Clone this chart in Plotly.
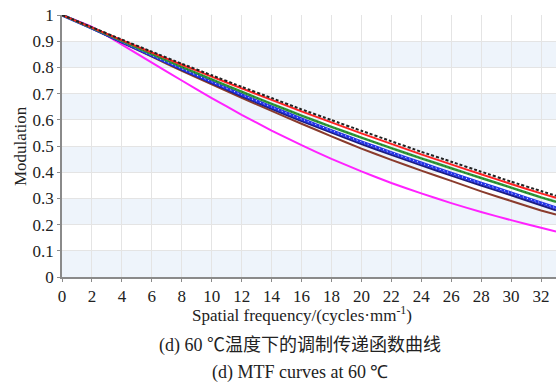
import plotly.graph_objects as go

freq = [0, 2, 4, 6, 8, 10, 12, 14, 16, 18, 20, 22, 24, 26, 28, 30, 32, 33]

diffraction = [1.0, 0.953, 0.906, 0.860, 0.814, 0.770, 0.726, 0.683, 0.640, 0.599, 0.558, 0.518, 0.478, 0.440, 0.402, 0.364, 0.328, 0.310]
red_curve = [1.0, 0.952, 0.904, 0.857, 0.810, 0.765, 0.720, 0.676, 0.632, 0.590, 0.548, 0.508, 0.468, 0.430, 0.392, 0.355, 0.319, 0.302]
green_curve = [1.0, 0.951, 0.901, 0.851, 0.802, 0.754, 0.707, 0.661, 0.616, 0.573, 0.532, 0.492, 0.453, 0.415, 0.378, 0.341, 0.304, 0.287]
blue_curve = [1.0, 0.950, 0.898, 0.846, 0.795, 0.745, 0.696, 0.649, 0.603, 0.559, 0.516, 0.475, 0.435, 0.396, 0.358, 0.321, 0.283, 0.264]
navy_curve = [1.0, 0.949, 0.896, 0.843, 0.791, 0.740, 0.690, 0.642, 0.595, 0.551, 0.507, 0.466, 0.426, 0.387, 0.349, 0.312, 0.274, 0.255]
brown_curve = [1.0, 0.948, 0.895, 0.841, 0.787, 0.735, 0.684, 0.634, 0.585, 0.537, 0.490, 0.447, 0.406, 0.367, 0.327, 0.290, 0.254, 0.238]
magenta_curve = [1.0, 0.955, 0.887, 0.818, 0.750, 0.683, 0.619, 0.559, 0.503, 0.451, 0.403, 0.359, 0.319, 0.282, 0.248, 0.217, 0.188, 0.174]

x_ticks = list(range(0, 33, 2))
y_ticks = [0, 0.1, 0.2, 0.3, 0.4, 0.5, 0.6, 0.7, 0.8, 0.9, 1]
y_tick_text = ["0", "0.1", "0.2", "0.3", "0.4", "0.5", "0.6", "0.7", "0.8", "0.9", "1"]

SERIF = "Liberation Serif"

fig = go.Figure()

def line(y, color, width, dash="solid"):
    fig.add_trace(go.Scatter(x=freq, y=y, mode="lines", showlegend=False,
                             line=dict(color=color, width=width, dash=dash, shape="spline", smoothing=0.3),
                             hoverinfo="skip"))

line(magenta_curve, "#ff22ff", 2)
line(brown_curve, "#8a3b2c", 2)
line(navy_curve, "#1c1c80", 2)
line(blue_curve, "#2233e8", 3)
line(blue_curve, "#ffffff", 1, "1px,3px")
line(green_curve, "#2e9a3a", 2.5)
line(green_curve, "#1f5f25", 1, "1px,3px")
line(red_curve, "#ff2222", 2)
line(diffraction, "#222222", 2, "3px,2px")

# alternating background bands
shapes = []
for i in range(0, 10, 2):
    shapes.append(dict(type="rect", xref="paper", yref="y", x0=0, x1=1,
                       y0=y_ticks[i], y1=y_ticks[i + 1], fillcolor="#eef4fb",
                       line=dict(width=0), layer="below"))

fig.update_layout(
    width=556, height=392,
    margin=dict(l=62, r=0, t=15, b=115),
    plot_bgcolor="white", paper_bgcolor="white",
    shapes=shapes,
    font=dict(family=SERIF, size=17, color="#222222"),
    xaxis=dict(range=[0, 33], tickmode="array", tickvals=x_ticks,
               showgrid=True, gridcolor="#e4e4e4", gridwidth=1,
               showline=True, linecolor="#8a8a8a", linewidth=1.5,
               ticks="outside", ticklen=3, tickcolor="#8a8a8a",
               zeroline=False, tickfont=dict(family=SERIF, size=17, color="#222")),
    yaxis=dict(range=[0, 1], tickmode="array", tickvals=y_ticks, ticktext=y_tick_text,
               showgrid=True, gridcolor="#e4e4e4", gridwidth=1,
               showline=True, linecolor="#8a8a8a", linewidth=1.5,
               ticks="outside", ticklen=3, tickcolor="#8a8a8a",
               zeroline=False, tickfont=dict(family=SERIF, size=17, color="#222")),
    annotations=[
        dict(text="Spatial frequency/(cycles·mm<sup>-1</sup>)", xref="paper", yref="paper",
             x=0.485, y=0, yshift=-37, xanchor="center", yanchor="middle", showarrow=False,
             font=dict(family=SERIF, size=17, color="#222")),
        dict(text="Modulation", xref="paper", yref="paper", x=0, xshift=-42, y=0.5,
             textangle=-90, xanchor="center", yanchor="middle", showarrow=False,
             font=dict(family=SERIF, size=17, color="#222")),
        dict(text="(d) 60 ℃温度下的调制传递函数曲线", xref="paper", yref="paper",
             x=0.482, y=0, yshift=-68, xanchor="center", yanchor="middle", showarrow=False,
             font=dict(family="Liberation Serif, Noto Sans CJK SC", size=18, color="#222")),
        dict(text="(d) MTF curves at 60 ℃", xref="paper", yref="paper",
             x=0.482, y=0, yshift=-95, xanchor="center", yanchor="middle", showarrow=False,
             font=dict(family=SERIF, size=18, color="#222")),
    ],
)

fig.write_html("out.html")
